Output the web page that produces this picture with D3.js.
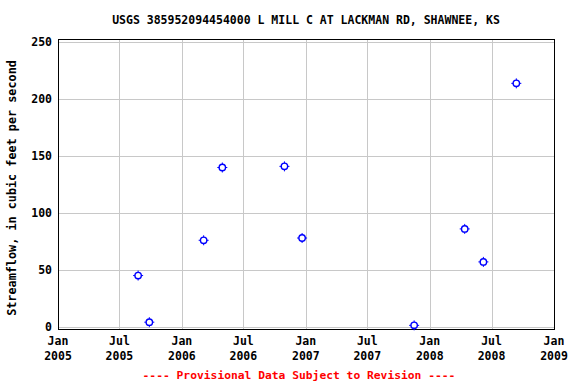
<!DOCTYPE html>
<html>
<head>
<meta charset="utf-8">
<script src="https://cdn.jsdelivr.net/npm/d3@7"></script>
<style>
  html, body { margin: 0; padding: 0; background: #fff; }
  text { font-family: "DejaVu Sans Mono", "Liberation Mono", monospace; font-weight: bold; }
</style>
</head>
<body>
<svg id="chart" width="576" height="384"></svg>
<script>
const title = "USGS 385952094454000 L MILL C AT LACKMAN RD, SHAWNEE, KS";
const yLabel = "Streamflow, in cubic feet per second";
const footer = "---- Provisional Data Subject to Revision ----";

const dates = ["2005-08-25", "2005-09-27", "2006-03-06", "2006-04-30", "2006-10-30",
               "2006-12-21", "2007-11-16", "2008-04-13", "2008-06-07", "2008-09-12"];
const flows = [45, 4, 76, 140, 141, 78, 1.2, 86, 57, 214];

const yTicks = [0, 50, 100, 150, 200, 250];
const xTickDates = ["2005-01-01", "2005-07-01", "2006-01-01", "2006-07-01", "2007-01-01",
                    "2007-07-01", "2008-01-01", "2008-07-01", "2009-01-01"];
const xTickLabels = [["Jan", "2005"], ["Jul", "2005"], ["Jan", "2006"], ["Jul", "2006"], ["Jan", "2007"],
                     ["Jul", "2007"], ["Jan", "2008"], ["Jul", "2008"], ["Jan", "2009"]];

const parse = d3.utcParse("%Y-%m-%d");
const svg = d3.select("#chart");
const L = 58, R = 554, T = 39, B = 329;

const x = d3.scaleUtc().domain([parse("2005-01-01"), parse("2009-01-01")]).range([L, R]);
const y = d3.scaleLinear().domain([-2, 253]).range([B, T]);

// grid
const g = svg.append("g");
g.selectAll("line.h").data(yTicks).enter().append("line")
  .attr("x1", L).attr("x2", R)
  .attr("y1", d => Math.round(y(d)) + 0.5).attr("y2", d => Math.round(y(d)) + 0.5)
  .attr("stroke", "#c8c8c8").attr("stroke-width", 1);
g.selectAll("line.v").data(xTickDates.slice(1, -1)).enter().append("line")
  .attr("y1", T).attr("y2", B)
  .attr("x1", d => Math.round(x(parse(d))) + 0.5).attr("x2", d => Math.round(x(parse(d))) + 0.5)
  .attr("stroke", "#c8c8c8").attr("stroke-width", 1);

// frame
svg.append("rect").attr("x", L + 0.5).attr("y", T + 0.5).attr("width", R - L).attr("height", B - T)
  .attr("fill", "none").attr("stroke", "#000").attr("stroke-width", 1);

// y tick labels
svg.selectAll("text.yt").data(yTicks).enter().append("text")
  .attr("x", L - 6).attr("y", d => y(d) + 4)
  .attr("text-anchor", "end").attr("font-size", "11.5px").text(d => d);

// x tick labels
const xl = svg.selectAll("g.xt").data(xTickDates).enter().append("g");
xl.append("text").attr("x", d => x(parse(d))).attr("y", 345)
  .attr("text-anchor", "middle").attr("font-size", "11.5px").text((d, i) => xTickLabels[i][0]);
xl.append("text").attr("x", d => x(parse(d))).attr("y", 360)
  .attr("text-anchor", "middle").attr("font-size", "11.5px").text((d, i) => xTickLabels[i][1]);

// title
svg.append("text").attr("x", 306).attr("y", 24).attr("text-anchor", "middle")
  .attr("font-size", "11.5px").text(title);

// y label
svg.append("text").attr("transform", "translate(16,188) rotate(-90)")
  .attr("text-anchor", "middle").attr("font-size", "11.8px").text(yLabel);

// footer
svg.append("text").attr("x", 299).attr("y", 379).attr("text-anchor", "middle")
  .attr("font-size", "11.3px").attr("fill", "#ff0000").text(footer);

// points
const pts = svg.selectAll("g.pt").data(dates.map((d, i) => ({ d: parse(d), v: flows[i] })))
  .enter().append("g")
  .attr("transform", d => "translate(" + x(d.d) + "," + y(d.v) + ")");
pts.append("circle").attr("r", 3.2).attr("fill", "none").attr("stroke", "#0000ff").attr("stroke-width", 1.4);
pts.append("path").attr("d", "M0,-5V-3M0,3V5M-5,0H-3M3,0H5")
  .attr("stroke", "#0000ff").attr("stroke-width", 1);
</script>
</body>
</html>
